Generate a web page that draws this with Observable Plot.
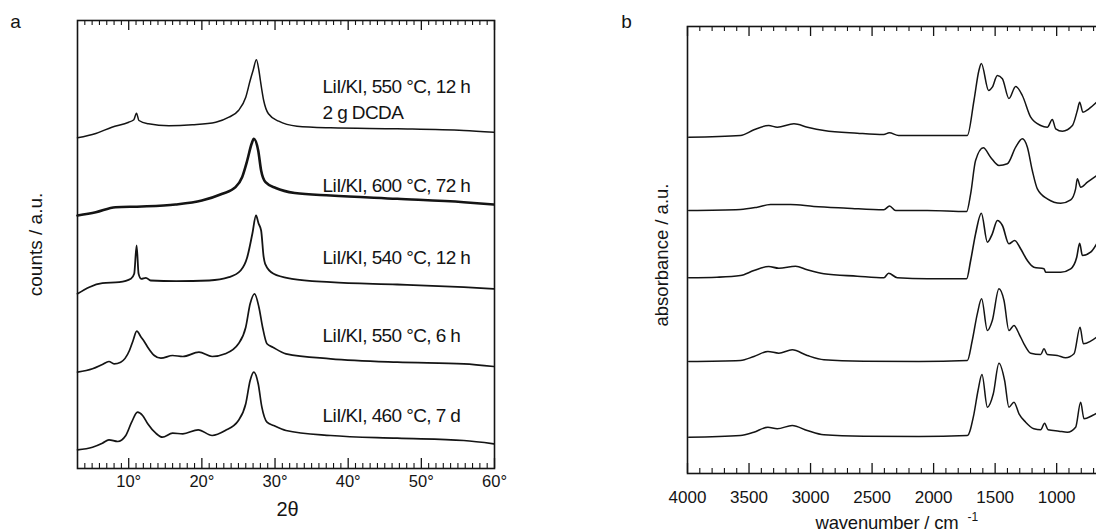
<!DOCTYPE html>
<html>
<head>
<meta charset="utf-8">
<script src="https://cdn.jsdelivr.net/npm/d3@7"></script>
<script src="https://cdn.jsdelivr.net/npm/@observablehq/plot@0.6"></script>
<style>
html, body { margin: 0; padding: 0; background: #fff; overflow: hidden; }
#wrap { position: relative; width: 1096px; height: 532px; overflow: hidden; background: #fff; }
#pa { position: absolute; left: 0; top: 0; width: 560px; height: 532px; }
#pb { position: absolute; left: 560px; top: 0; width: 580px; height: 532px; }
</style>
</head>
<body>
<div id="wrap"><div id="pa"></div><div id="pb"></div></div>
<script>
// ---------- Panel a: XRD patterns (2θ in degrees, intensity in a.u., stacked) ----------
const xrdLabels = [
  "LiI/KI, 550 °C, 12 h",
  "2 g DCDA",
  "LiI/KI, 600 °C, 72 h",
  "LiI/KI, 540 °C, 12 h",
  "LiI/KI, 550 °C, 6 h",
  "LiI/KI, 460 °C, 7 d"
];
const xrdTickValues = [10, 20, 30, 40, 50, 60];
const xrdTickLabels = ["10°", "20°", "30°", "40°", "50°", "60°"];

const xrd550_12h_dcda_x = [3.0, 5.5, 7.7, 10.0, 10.7, 11.06, 11.4, 12.7, 15.5, 18.7, 21.9, 23.7, 25.0, 26.0, 26.6, 27.0, 27.45, 27.8, 28.0, 28.45, 29.1, 30.5, 33.0, 37.6, 46.7, 55.8, 59.9];
const xrd550_12h_dcda_y = [330.7, 335, 341.3, 346.3, 348.7, 355.3, 348, 344.7, 342.7, 343.7, 346.3, 351.3, 358, 371.3, 388, 398, 408.7, 398, 388, 368, 354.7, 347.3, 342.3, 340.7, 339.7, 338, 336.3];

const xrd600_72h_x = [3.0, 5.5, 8.2, 11.8, 16.4, 20.0, 22.8, 24.6, 25.5, 26.2, 26.8, 27.1, 27.7, 28.1, 28.7, 30.1, 32.7, 37.6, 46.7, 55.8, 59.9];
const xrd600_72h_y = [253, 256.3, 261.3, 262, 264, 268, 274.7, 281.3, 291.3, 308, 324.7, 329.7, 318, 298, 286.3, 280.5, 275.5, 273, 269.7, 266.3, 264];

const xrd540_12h_x = [3.0, 4.6, 6.4, 8.7, 10.3, 10.75, 11.08, 11.35, 11.7, 12.35, 13.0, 16.5, 21.0, 23.7, 25.3, 26.2, 26.9, 27.4, 27.75, 28.1, 28.45, 28.65, 29.8, 32.3, 37.6, 46.7, 55.8, 59.9];
const xrd540_12h_y = [174.7, 181.3, 185.3, 186.3, 189.7, 194.7, 223, 194.7, 189.7, 190.7, 188, 187.3, 188, 191.3, 198, 211.3, 234.7, 253, 245, 238, 211.3, 204.7, 194.7, 189.7, 186.3, 184, 181.3, 179.7];

const xrd550_6h_x = [3.0, 5.05, 6.4, 7.3, 8.0, 8.9, 10.1, 10.6, 11.1, 11.7, 12.1, 12.6, 13.5, 14.4, 16.0, 17.4, 19.6, 21.4, 23.2, 25.0, 26.0, 26.6, 27.2, 27.8, 28.3, 28.9, 29.7, 31.5, 37.6, 46.7, 55.8, 59.9];
const xrd550_6h_y = [96.3, 99.7, 104, 107, 104.7, 106.3, 118, 128, 137.3, 131.3, 127.3, 121.3, 113, 110.3, 113, 112, 116.3, 112, 114.7, 124.7, 141.3, 164.7, 174.7, 161.3, 141.3, 124.7, 121.3, 114.7, 109.7, 106.3, 104.7, 102];

const xrd460_7d_x = [3.0, 5.05, 6.4, 7.3, 8.5, 9.6, 10.4, 11.2, 11.9, 12.6, 13.7, 14.6, 16.0, 17.4, 19.5, 21.4, 23.2, 25.0, 26.0, 26.6, 27.1, 27.7, 28.2, 28.9, 29.8, 31.5, 37.6, 46.7, 55.8, 59.9];
const xrd460_7d_y = [18.7, 21.3, 25.3, 28.7, 27, 33, 46.3, 56.3, 53, 44.7, 35.3, 31.3, 35.3, 34.7, 38.7, 33, 38, 48, 64.7, 88, 96.3, 84.7, 61.3, 46.3, 43, 38, 33, 30.3, 28, 24.7];

// ---------- Panel b: FTIR spectra (wavenumber in cm-1, absorbance in a.u., stacked) ----------
const irTickValues = [4000, 3500, 3000, 2500, 2000, 1500, 1000, 500];
const irTickLabels = ["4000", "3500", "3000", "2500", "2000", "1500", "1000"];

const ir1_x = [3990, 3570, 3460, 3340, 3270, 3135, 3025, 2890, 2620, 2405, 2360, 2285, 2050, 1726, 1672, 1632, 1612, 1553, 1523, 1482, 1441, 1388, 1333, 1279, 1211, 1130, 1076, 1035, 1008, 953, 872, 832, 813, 787, 738, 675];
const ir1_y = [336.3, 338, 343.7, 348, 346.3, 349.7, 346.3, 343, 340.3, 339, 340.7, 338, 338, 338, 373, 403, 410, 383, 386.3, 398, 394.7, 375, 387, 378, 356.3, 348, 346.3, 354, 344.7, 342.3, 348, 363, 371.3, 361.3, 364.7, 371.3];

const ir2_x = [3990, 3570, 3433, 3325, 3163, 2973, 2702, 2404, 2358, 2309, 2051, 1732, 1699, 1659, 1596, 1537, 1469, 1401, 1333, 1279, 1238, 1198, 1157, 1076, 967, 886, 846, 832, 805, 750, 675];
const ir2_y = [263, 264, 266.3, 269, 269, 267, 265.3, 263.7, 267.5, 263, 263, 262, 279.7, 313, 325.7, 316.3, 308, 309.7, 326.3, 334.7, 326.3, 303, 284.7, 274.7, 270.3, 273.7, 284.7, 294.7, 286.3, 291.3, 298];

const ir3_x = [3990, 3760, 3570, 3460, 3340, 3258, 3122, 3027, 2892, 2620, 2404, 2366, 2295, 2051, 1732, 1699, 1659, 1612, 1563, 1523, 1482, 1441, 1388, 1341, 1293, 1238, 1185, 1103, 1089, 967, 886, 837, 813, 791, 724, 675];
const ir3_y = [195.7, 196.3, 198, 203, 207, 205.3, 207.3, 203.7, 199.7, 197.3, 195.7, 200.3, 195.7, 194.7, 194.7, 213, 239.7, 260.3, 231.3, 239.7, 253, 248, 229.7, 233, 224.7, 213, 206.3, 204.7, 201.3, 201.3, 204.7, 216.3, 230.3, 218, 221.3, 229.7];

const ir4_x = [3990, 3570, 3460, 3347, 3258, 3149, 3027, 2892, 2567, 2120, 1726, 1686, 1645, 1610, 1563, 1523, 1469, 1428, 1388, 1347, 1306, 1266, 1211, 1130, 1103, 1076, 995, 927, 859, 810, 783, 724, 675];
const ir4_y = [112, 113, 117, 122, 120.3, 123.7, 118, 113.7, 112.3, 112, 113, 133, 159.7, 174.7, 143, 153, 184.7, 173, 143, 148, 139.7, 129.7, 120.3, 119, 124.7, 119, 118, 115.7, 119.7, 146.3, 129.7, 132.3, 136.3];

const ir5_x = [3990, 3570, 3461, 3347, 3271, 3149, 3027, 2892, 2567, 2120, 1726, 1672, 1639, 1607, 1563, 1515, 1469, 1423, 1388, 1347, 1306, 1252, 1185, 1130, 1098, 1070, 981, 913, 846, 805, 778, 710, 675];
const ir5_y = [36.3, 38, 41.3, 46.3, 44.7, 48, 43, 38.7, 37.3, 37, 38, 59.7, 83, 99, 66.3, 79.7, 110.3, 93, 66.3, 71.3, 59.7, 51.3, 44.7, 43.7, 50.3, 43.7, 42.3, 41.3, 46.3, 71.3, 54.7, 58, 60.3];

// ---------- helpers ----------
const rows = (xs, ys) => xs.map((x, i) => ({x, y: ys[i]}));
const INK = "#141414";
const FONT = "'Liberation Sans', Arial, Helvetica, sans-serif";

// ---------- Panel a ----------
const aH = 448; // frame height in px (for tick insets)
const xrdMinor = d3.range(4, 60).filter(d => d % 10 !== 0);
const xrdSeries = [
  [xrd550_12h_dcda_x, xrd550_12h_dcda_y, 1.5],
  [xrd600_72h_x, xrd600_72h_y, 2.6],
  [xrd540_12h_x, xrd540_12h_y, 1.8],
  [xrd550_6h_x, xrd550_6h_y, 1.7],
  [xrd460_7d_x, xrd460_7d_y, 1.7]
];
const labelX = 36.5;
const labelY = [382, 355.7, 282.3, 210.7, 132.3, 52.3];

const plotA = Plot.plot({
  width: 560, height: 532,
  marginLeft: 77, marginRight: 66, marginTop: 20, marginBottom: 64,
  x: {domain: [3, 60], axis: null},
  y: {domain: [0, 448], axis: null},
  style: {fontFamily: FONT, fontSize: "16px", color: INK, background: "#fff", maxWidth: "none", overflow: "visible"},
  marks: [
    ...xrdSeries.map(([xs, ys, w]) => Plot.line(rows(xs, ys), {x: "x", y: "y", stroke: INK, strokeWidth: w, curve: "monotone-x"})),
    Plot.tickX(xrdMinor, {x: d => d, insetTop: aH - 5, stroke: INK, strokeWidth: 1.1}),
    Plot.tickX(xrdMinor, {x: d => d, insetBottom: aH - 5, stroke: INK, strokeWidth: 1.1}),
    Plot.tickX(xrdTickValues, {x: d => d, insetTop: aH - 10, stroke: INK, strokeWidth: 1.3}),
    Plot.tickX(xrdTickValues, {x: d => d, insetBottom: aH - 10, stroke: INK, strokeWidth: 1.3}),
    Plot.frame({stroke: INK, strokeWidth: 1.6}),
    Plot.text(xrdTickValues, {x: d => d, text: (d, i) => xrdTickLabels[i], frameAnchor: "bottom", dy: 13, textAnchor: "middle", lineAnchor: "middle", fontSize: 16.5, fill: INK}),
    Plot.text(xrdLabels, {x: () => labelX, y: (d, i) => labelY[i], text: d => d, textAnchor: "start", lineAnchor: "middle", fontSize: 19, fill: INK}),
    Plot.text(["2θ"], {frameAnchor: "bottom", dx: 1.5, dy: 41, textAnchor: "middle", lineAnchor: "middle", fontSize: 20, fill: INK}),
    Plot.text(["counts / a.u."], {frameAnchor: "left", dx: -42, rotate: -90, textAnchor: "middle", lineAnchor: "middle", fontSize: 19, fill: INK}),
    Plot.text(["a"], {frameAnchor: "top-left", dx: -62, dy: 1, textAnchor: "middle", lineAnchor: "middle", fontSize: 19, fill: INK})
  ]
});
document.getElementById("pa").appendChild(plotA);
d3.select(plotA).selectAll("text")
  .filter(function () { return xrdLabels.includes(this.textContent); })
  .attr("letter-spacing", "-0.6");

// ---------- Panel b ----------
const bH = 447;
const irMinor = d3.range(500, 4000, 100).filter(d => d % 500 !== 0);
const irSeries = [
  [ir1_x, ir1_y, 1.5],
  [ir2_x, ir2_y, 1.5],
  [ir3_x, ir3_y, 1.6],
  [ir4_x, ir4_y, 1.5],
  [ir5_x, ir5_y, 1.5]
];

const plotB = Plot.plot({
  width: 580, height: 532,
  marginLeft: 127, marginRight: 10, marginTop: 26, marginBottom: 59,
  x: {domain: [4000, 400], axis: null},
  y: {domain: [0, 447], axis: null},
  style: {fontFamily: FONT, fontSize: "16px", color: INK, background: "#fff", maxWidth: "none", overflow: "visible"},
  marks: [
    ...irSeries.map(([xs, ys, w]) => Plot.line(rows(xs, ys), {x: "x", y: "y", stroke: INK, strokeWidth: w, curve: "monotone-x"})),
    Plot.tickX(irMinor, {x: d => d, insetTop: bH - 5, stroke: INK, strokeWidth: 1.1}),
    Plot.tickX(irMinor, {x: d => d, insetBottom: bH - 5, stroke: INK, strokeWidth: 1.1}),
    Plot.tickX(irTickValues, {x: d => d, insetTop: bH - 10, stroke: INK, strokeWidth: 1.3}),
    Plot.tickX(irTickValues, {x: d => d, insetBottom: bH - 10, stroke: INK, strokeWidth: 1.3}),
    Plot.frame({stroke: INK, strokeWidth: 1.6}),
    Plot.text(irTickLabels, {x: (d, i) => irTickValues[i], text: d => d, frameAnchor: "bottom", dy: 24, textAnchor: "middle", lineAnchor: "middle", fontSize: 17, fill: INK}),
    Plot.text(["wavenumber / cm"], {frameAnchor: "bottom-left", dx: 128, dy: 50, textAnchor: "start", lineAnchor: "middle", fontSize: 18.5, fill: INK}),
    Plot.text(["-1"], {frameAnchor: "bottom-left", dx: 280, dy: 44, textAnchor: "start", lineAnchor: "middle", fontSize: 12, fill: INK}),
    Plot.text(["absorbance / a.u."], {frameAnchor: "left", dx: -25, dy: 5, rotate: -90, textAnchor: "middle", lineAnchor: "middle", fontSize: 18.5, fill: INK}),
    Plot.text(["b"], {frameAnchor: "top-left", dx: -61, dy: -5, textAnchor: "middle", lineAnchor: "middle", fontSize: 19, fill: INK})
  ]
});
document.getElementById("pb").appendChild(plotB);
d3.select(plotB).selectAll("text")
  .filter(function () { return this.textContent === "wavenumber / cm"; })
  .attr("letter-spacing", "-0.2");
</script>
</body>
</html>
